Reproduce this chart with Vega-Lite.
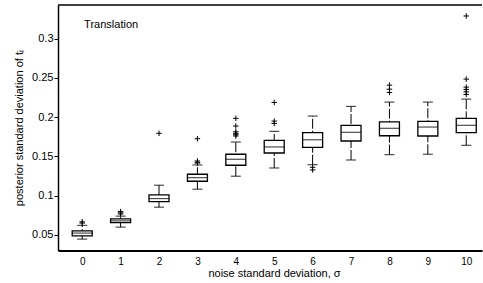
{
  "$schema": "https://vega.github.io/schema/vega-lite/v6.json",
  "autosize": "none",
  "padding": {"left": 58, "top": 5, "right": 1, "bottom": 32.5},
  "width": 424,
  "height": 245.5,
  "config": {
    "view": {"stroke": null},
    "font": "Liberation Sans",
    "axis": {"labelColor": "#000", "titleColor": "#000", "domainColor": "#000", "tickColor": "#000", "grid": false, "titleFontWeight": "normal"}
  },
  "datasets": {
    "boxes": [
      {"sigma": 0, "lower": 0.0445, "q1": 0.0487, "median": 0.0522, "q3": 0.0551, "upper": 0.0620},
      {"sigma": 1, "lower": 0.0598, "q1": 0.0656, "median": 0.0678, "q3": 0.0704, "upper": 0.0738},
      {"sigma": 2, "lower": 0.0852, "q1": 0.0924, "median": 0.0962, "q3": 0.1009, "upper": 0.1132},
      {"sigma": 3, "lower": 0.1081, "q1": 0.1183, "median": 0.1229, "q3": 0.1272, "upper": 0.1391},
      {"sigma": 4, "lower": 0.1247, "q1": 0.1387, "median": 0.1463, "q3": 0.1527, "upper": 0.1683},
      {"sigma": 5, "lower": 0.1352, "q1": 0.1543, "median": 0.1620, "q3": 0.1705, "upper": 0.1819},
      {"sigma": 6, "lower": 0.1394, "q1": 0.1616, "median": 0.1712, "q3": 0.1802, "upper": 0.2014},
      {"sigma": 7, "lower": 0.1454, "q1": 0.1696, "median": 0.1807, "q3": 0.1896, "upper": 0.2137},
      {"sigma": 8, "lower": 0.1522, "q1": 0.1763, "median": 0.1858, "q3": 0.1941, "upper": 0.2192},
      {"sigma": 9, "lower": 0.1527, "q1": 0.1760, "median": 0.1874, "q3": 0.1947, "upper": 0.2192},
      {"sigma": 10, "lower": 0.1641, "q1": 0.1802, "median": 0.1896, "q3": 0.1985, "upper": 0.2230}
    ],
    "outliers": [
      {"sigma": 0, "value": 0.0650}, {"sigma": 0, "value": 0.0665},
      {"sigma": 1, "value": 0.0765}, {"sigma": 1, "value": 0.0780}, {"sigma": 1, "value": 0.0796},
      {"sigma": 2, "value": 0.1794},
      {"sigma": 3, "value": 0.1415}, {"sigma": 3, "value": 0.1425}, {"sigma": 3, "value": 0.1441}, {"sigma": 3, "value": 0.1725},
      {"sigma": 4, "value": 0.1760}, {"sigma": 4, "value": 0.1776}, {"sigma": 4, "value": 0.1794}, {"sigma": 4, "value": 0.1814}, {"sigma": 4, "value": 0.1887}, {"sigma": 4, "value": 0.1985},
      {"sigma": 5, "value": 0.1920}, {"sigma": 5, "value": 0.1950}, {"sigma": 5, "value": 0.2188},
      {"sigma": 6, "value": 0.1361}, {"sigma": 6, "value": 0.1327},
      {"sigma": 8, "value": 0.2315}, {"sigma": 8, "value": 0.2357}, {"sigma": 8, "value": 0.2408},
      {"sigma": 10, "value": 0.2290}, {"sigma": 10, "value": 0.2323}, {"sigma": 10, "value": 0.2354}, {"sigma": 10, "value": 0.2383}, {"sigma": 10, "value": 0.2485}, {"sigma": 10, "value": 0.3290}
    ]
  },
  "layer": [
    {
      "data": {"name": "boxes"},
      "mark": {"type": "rule", "color": "#000", "strokeWidth": 1, "strokeDash": [10, 2]},
      "encoding": {
        "x": {"field": "sigma", "type": "quantitative", "scale": {"domain": [-0.5, 10.28], "nice": false, "zero": false},
          "axis": {"values": [0,1,2,3,4,5,6,7,8,9,10], "format": "d", "ticks": false, "labelFontSize": 10, "labelPadding": 6, "domainWidth": 2,
            "title": "noise standard deviation, σ", "titleFontSize": 11, "titlePadding": 1, "titleX": 216}},
        "y": {"field": "lower", "type": "quantitative", "scale": {"domain": [0.03, 0.343], "nice": false, "zero": false},
          "axis": {"values": [0.05, 0.1, 0.15, 0.2, 0.25, 0.3], "format": "~g", "tickSize": 4, "labelFontSize": 11, "labelPadding": 1, "domainWidth": 1.5,
            "title": "posterior standard deviation of tᵢ", "titleFontSize": 11, "titlePadding": 7}},
        "y2": {"field": "upper"}
      }
    },
    {
      "data": {"name": "boxes"},
      "mark": {"type": "bar", "width": 20, "fill": "#fff", "stroke": "#000", "strokeWidth": 1.3},
      "encoding": {
        "x": {"field": "sigma", "type": "quantitative"},
        "y": {"field": "q1", "type": "quantitative"},
        "y2": {"field": "q3"}
      }
    },
    {
      "data": {"name": "boxes"},
      "mark": {"type": "tick", "orient": "horizontal", "size": 20, "thickness": 1.2, "color": "#000"},
      "encoding": {
        "x": {"field": "sigma", "type": "quantitative"},
        "y": {"field": "median", "type": "quantitative"}
      }
    },
    {
      "data": {"name": "boxes"},
      "mark": {"type": "tick", "orient": "horizontal", "size": 10, "thickness": 1.2, "color": "#000"},
      "encoding": {
        "x": {"field": "sigma", "type": "quantitative"},
        "y": {"field": "upper", "type": "quantitative"}
      }
    },
    {
      "data": {"name": "boxes"},
      "mark": {"type": "tick", "orient": "horizontal", "size": 10, "thickness": 1.2, "color": "#000"},
      "encoding": {
        "x": {"field": "sigma", "type": "quantitative"},
        "y": {"field": "lower", "type": "quantitative"}
      }
    },
    {
      "data": {"name": "outliers"},
      "mark": {"type": "point", "shape": "M-1,0H1M0,-1V1", "filled": false, "stroke": "#000", "strokeWidth": 1, "size": 30, "opacity": 1},
      "encoding": {
        "x": {"field": "sigma", "type": "quantitative"},
        "y": {"field": "value", "type": "quantitative"}
      }
    },
    {
      "data": {"values": [{}]},
      "mark": {"type": "rule", "color": "#000", "strokeWidth": 1.5},
      "encoding": {"y": {"datum": 0.343, "type": "quantitative"}}
    },
    {
      "data": {"values": [{"label": "Translation"}]},
      "mark": {"type": "text", "align": "left", "baseline": "middle", "fontSize": 11, "color": "#000"},
      "encoding": {
        "x": {"datum": 0.05, "type": "quantitative"},
        "y": {"datum": 0.317, "type": "quantitative"},
        "text": {"field": "label"}
      }
    }
  ]
}
